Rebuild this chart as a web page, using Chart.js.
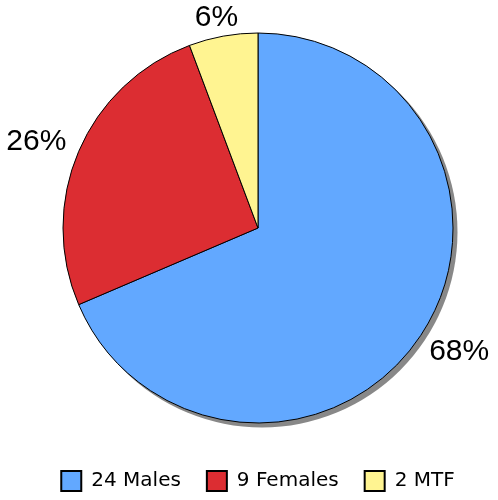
<!DOCTYPE html>
<html>
<head>
<meta charset="utf-8">
<script src="https://cdn.jsdelivr.net/npm/chart.js@4/dist/chart.umd.min.js"></script>
<style>
  html, body { margin: 0; padding: 0; background: #fff; }
  #chart { display: block; }
</style>
</head>
<body>
<canvas id="chart" width="498" height="500"></canvas>
<script>
// data
const categories = ["24 Males", "9 Females", "2 MTF"]
const counts = [24, 9, 2]
const sliceColors = ["#62a8ff", "#dc2d32", "#fff491"]

// percentages that add up to 100 (largest remainder)
function percentLabels(values) {
  const total = values.reduce((a, b) => a + b, 0)
  const raw = values.map(v => v / total * 100)
  const out = raw.map(Math.floor)
  let left = 100 - out.reduce((a, b) => a + b, 0)
  const order = raw.map((r, i) => [r - Math.floor(r), i]).sort((a, b) => b[0] - a[0])
  for (let k = 0; k < left; k++) out[order[k][1]] += 1
  return out.map(p => p + "%")
}
const pctLabels = percentLabels(counts)

// grey drop shadow behind the pie
const shadowPlugin = {
  id: "pieShadow",
  beforeDatasetsDraw(chart) {
    const arc = chart.getDatasetMeta(0).data[0]
    if (!arc) return
    const { x, y, outerRadius } = arc.getProps(["x", "y", "outerRadius"], true)
    const ctx = chart.ctx
    ctx.save()
    ctx.fillStyle = "#888888"
    ctx.beginPath()
    ctx.arc(x + 4, y + 4, outerRadius + 0.5, 0, Math.PI * 2)
    ctx.fill()
    ctx.restore()
  }
}

// percent labels outside each slice
const outsideLabels = {
  id: "outsideLabels",
  afterDatasetsDraw(chart) {
    const ctx = chart.ctx
    const meta = chart.getDatasetMeta(0)
    ctx.save()
    ctx.font = "30px 'Liberation Sans', Arial, sans-serif"
    ctx.fillStyle = "#000"
    ctx.textAlign = "center"
    ctx.textBaseline = "middle"
    meta.data.forEach((arc, i) => {
      const { x, y, startAngle, endAngle, outerRadius } =
        arc.getProps(["x", "y", "startAngle", "endAngle", "outerRadius"], true)
      const mid = (startAngle + endAngle) / 2
      const txt = pctLabels[i]
      const w = ctx.measureText(txt).width
      const h = 22
      const r = outerRadius + 16
      let cx = x + Math.cos(mid) * r + Math.cos(mid) * w / 2
      let cy = y + Math.sin(mid) * r + Math.sin(mid) * h / 2
      cy = Math.max(cy, 6 + h / 2) // keep inside the top edge
      ctx.fillText(txt, cx, cy + 1)
    })
    ctx.restore()
  }
}

const baseLabels = Chart.overrides.doughnut.plugins.legend.labels.generateLabels

new Chart(document.getElementById("chart").getContext("2d"), {
  type: "pie",
  data: {
    labels: categories,
    datasets: [{
      data: counts,
      backgroundColor: sliceColors,
      borderColor: "#000",
      borderWidth: 1,
      hoverOffset: 0,
      radius: 195
    }]
  },
  options: {
    responsive: false,
    devicePixelRatio: 1,
    animation: false,
    events: [],
    layout: {
      padding: { top: 11, left: 20, right: 2, bottom: -1 }
    },
    plugins: {
      tooltip: { enabled: false },
      legend: {
        position: "bottom",
        labels: {
          boxWidth: 20,
          boxHeight: 20,
          padding: 26,
          color: "#000",
          font: { family: "'DejaVu Sans', Verdana, sans-serif", size: 20 },
          generateLabels: chart => baseLabels(chart).map(item => ({
            ...item,
            lineWidth: 2,
            strokeStyle: "#000"
          }))
        }
      }
    }
  },
  plugins: [shadowPlugin, outsideLabels]
})
</script>
</body>
</html>
